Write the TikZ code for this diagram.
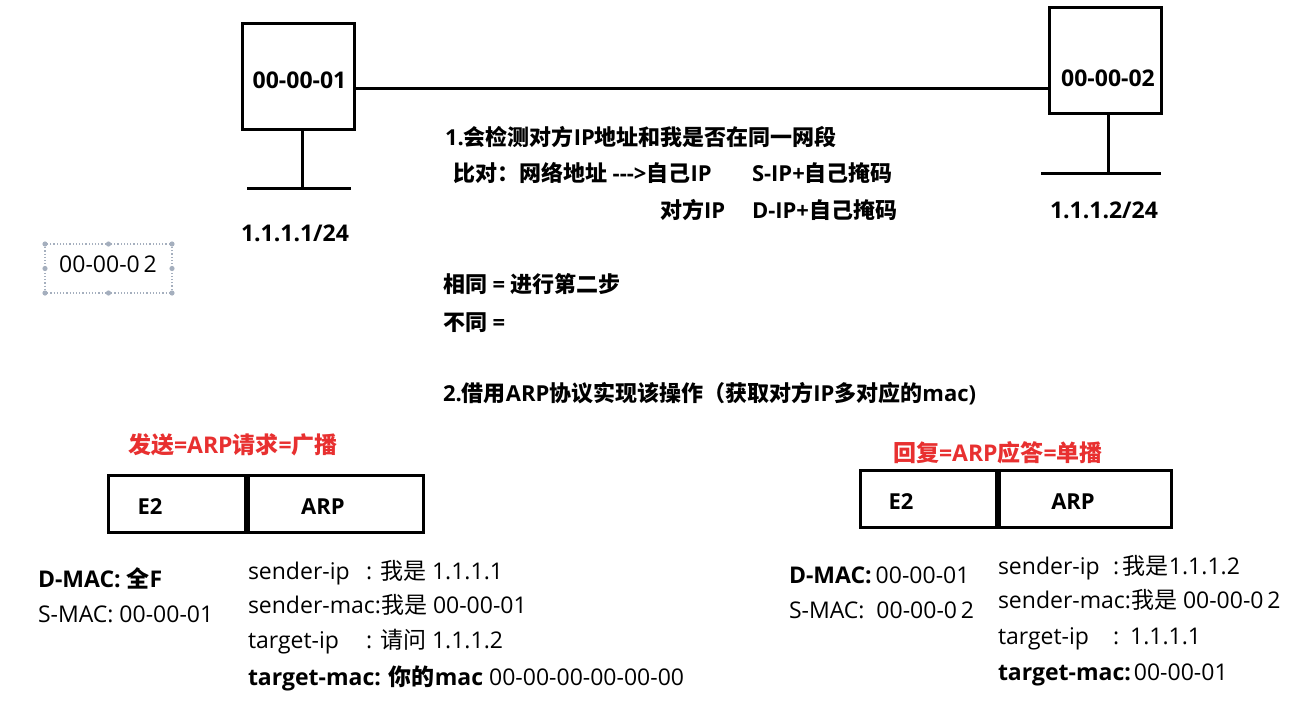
\documentclass[tikz,border=0pt]{standalone}
\usepackage{fontspec}
\setmainfont{Open Sans}
\newfontfamily\cjk{Noto Sans CJK SC}
\newcommand\zh[1]{{\cjk #1}}
\definecolor{redtxt}{RGB}{232,48,48}
\definecolor{handle}{RGB}{165,175,190}
\tikzset{
  txt/.style={inner sep=0pt, outer sep=0pt, anchor=base west, font=\fontsize{23}{27}\selectfont},
  txtc/.style={txt, anchor=base},
  midtxt/.style={txt, font=\fontsize{22}{26}\selectfont\bfseries},
  hostbox/.style={draw, line width=3pt, inner sep=0pt, minimum width=112pt, minimum height=106pt},
  cell/.style={draw, line width=3pt, inner sep=0pt, minimum height=57pt},
  wire/.style={line width=3pt},
  reddy/.style={txt, text=redtxt, font=\fontsize{23}{27}\selectfont\bfseries},
}
\begin{document}
\begin{tikzpicture}[x=1pt,y=-1pt]
\fill[white] (0,0) rectangle (1310,707);
\useasboundingbox (0,0) rectangle (1310,707);

% hosts
\node[hostbox] (box1) at (298,76) {};
\node[hostbox] (box2) at (1105,60.5) {};
\node[txtc, font=\fontsize{23}{27}\selectfont\bfseries] (mac1) at (299.5,88) {00-00-01};
\node[txtc, font=\fontsize{23}{27}\selectfont\bfseries] (mac2) at (1108,86) {00-00-02};
\draw[wire] ([yshift=-12pt]box1.east) -- ([yshift=-27.5pt]box2.west);

% ground bars
\coordinate (g1) at (302,188);
\coordinate (g2) at (1108,173);
\draw[wire] (g1 |- box1.south) -- (g1);
\draw[wire] (247,188) -- (351,188);
\draw[wire] (g2 |- box2.south) -- (g2);
\draw[wire] (1041,173) -- (1161,173);
\node[txtc, font=\fontsize{23}{27}\selectfont\bfseries] (ip1) at (295,241) {1.1.1.1/24};
\node[txtc, font=\fontsize{23}{27}\selectfont\bfseries] (ip2) at (1104,218) {1.1.1.2/24};

% dotted selection box
\draw[handle, dotted, line width=1.2pt] (45,244) rectangle (172,293);
\foreach \p in {(45,244),(108.5,244),(172,244),(45,268.5),(172,268.5),(45,293),(108.5,293),(172,293)}
  \fill[handle] \p circle (2.6pt);
\node[txtc] (sel) at (108,272) {00-00-0\,2};

% middle text
\node[midtxt] (l1) at (445,145) {1.\zh{会检测对方}IP\zh{地址和我是否在同一网段}};
\node[midtxt] (l2a) at (453,181) {\zh{比对：网络地址} -{}-{}->\zh{自己}IP};
\node[midtxt] (l2b) at (752,181) {S-IP+\zh{自己掩码}};
\node[midtxt] (l3a) at (660,218) {\zh{对方}IP};
\node[midtxt] (l3b) at (752,218) {D-IP+\zh{自己掩码}};
\node[midtxt] (same) at (443,292) {\zh{相同} = \zh{进行第二步}};
\node[midtxt] (diff) at (443,330) {\zh{不同} =};
\node[midtxt] (step2) at (443,401) {2.\zh{借用}ARP\zh{协议实现该操作（获取对方}IP\zh{多对应的}mac)};

% left frame
\node[reddy] (reqt) at (128,453) {\zh{发送}=ARP\zh{请求}=\zh{广播}};
\node[cell, minimum width=137pt] (e2l) at (176.5,503.5) {};
\node[cell, minimum width=175pt, anchor=west] (arpl) at (e2l.east) {};
\node[txtc, font=\fontsize{22}{26}\selectfont\bfseries] (e2lt) at (150,514) {E2};
\node[txtc, font=\fontsize{22}{26}\selectfont\bfseries] (arplt) at (323,514) {ARP};

\node[txt, font=\fontsize{23}{27}\selectfont\bfseries] (dmacl) at (38,587) {D-MAC: \zh{全}F};
\node[txt] (smacl) at (38,622) {S-MAC: 00-00-01};
\node[txt] (sipl) at (248,579) {sender-ip};
\node[txt] (sipl2) at (366,579) {: \zh{我是} 1.1.1.1};
\node[txt] (smcl) at (248,613) {sender-mac:\zh{我是} 00-00-01};
\node[txt] (tipl) at (248,648) {target-ip};
\node[txt] (tipl2) at (366,648) {: \zh{请问} 1.1.1.2};
\node[txt] (tmcl) at (248,685) {\textbf{target-mac: \zh{你的}mac} 00-00-00-00-00-00};

% right frame
\node[reddy] (rept) at (893,461) {\zh{回复}=ARP\zh{应答}=\zh{单播}};
\node[cell, minimum width=136pt] (e2r) at (928,498.5) {};
\node[cell, minimum width=172pt, anchor=west] (arpr) at (e2r.east) {};
\node[txtc, font=\fontsize{22}{26}\selectfont\bfseries] (e2rt) at (901,509) {E2};
\node[txtc, font=\fontsize{22}{26}\selectfont\bfseries] (arprt) at (1073,509) {ARP};

\node[txt] (dmacr) at (789,583) {\textbf{D-MAC:}\hspace{4pt}00-00-01};
\node[txt] (smacr) at (789,618) {S-MAC:~~00-00-0\,2};
\node[txt] (sipr) at (998,574) {sender-ip};
\node[txt] (sipr2) at (1113,574) {:\,\zh{我是}1.1.1.2};
\node[txt] (smcr) at (998,608) {sender-mac:\zh{我是} 00-00-0\,2};
\node[txt] (tipr) at (998,644) {target-ip};
\node[txt] (tipr2) at (1113,644) {:\hspace{11pt}1.1.1.1};
\node[txt] (tmcr) at (998,680) {\textbf{target-mac:}\hspace{3pt}00-00-01};
\end{tikzpicture}
\end{document}
